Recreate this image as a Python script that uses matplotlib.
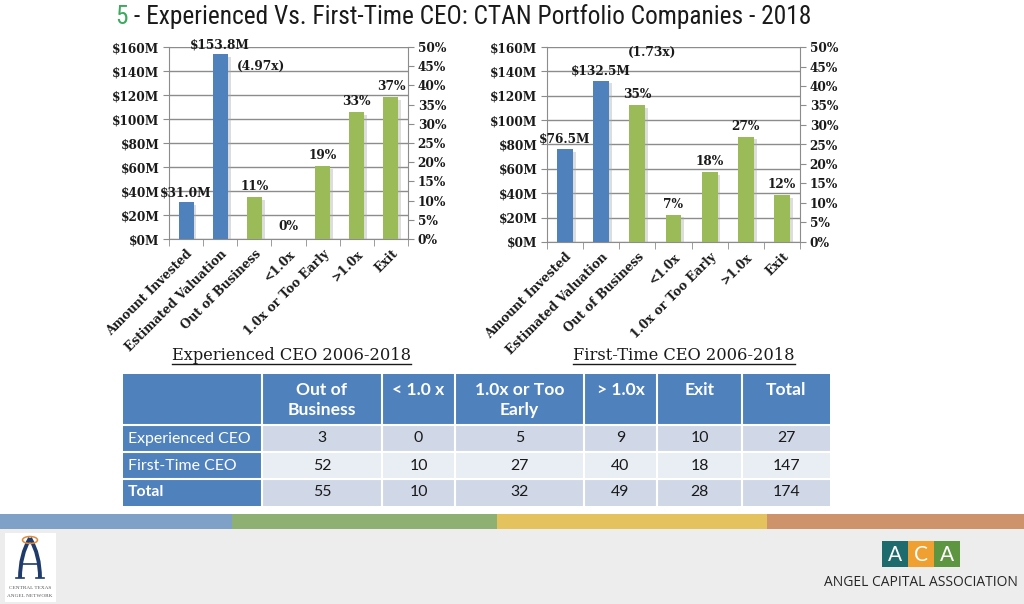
import matplotlib
matplotlib.use("Agg")
import matplotlib.pyplot as plt
import matplotlib.font_manager as fm
from matplotlib.font_manager import FontProperties
from matplotlib.patches import Rectangle, Ellipse, PathPatch
from matplotlib.path import Path
import matplotlib.patheffects as pe

# ---------------- data ----------------
categories = ["Amount Invested", "Estimated Valuation", "Out of Business",
              "<1.0x", "1.0x or Too Early", ">1.0x", "Exit"]
exp_dollars = [31.0, 153.8]            # $M : Amount Invested, Estimated Valuation
exp_pcts = [11, 0, 19, 33, 37]         # % of companies
exp_multiple = "(4.97x)"
first_dollars = [76.5, 132.5]
first_pcts = [35, 7, 18, 27, 12]
first_multiple = "(1.73x)"
dollar_ticks = [0, 20, 40, 60, 80, 100, 120, 140, 160]
pct_ticks = [0, 5, 10, 15, 20, 25, 30, 35, 40, 45, 50]

title_num = "5"
title_rest = " - Experienced Vs. First-Time CEO: CTAN Portfolio Companies - 2018"
subtitles = ["Experienced CEO 2006-2018", "First-Time CEO 2006-2018"]

table_header = ["Out of\nBusiness", "< 1.0 x", "1.0x or Too\nEarly", "> 1.0x", "Exit", "Total"]
table_rows = ["Experienced CEO", "First-Time CEO", "Total"]
exp_counts = [3, 0, 5, 9, 10, 27]
first_counts = [52, 10, 27, 40, 18, 147]
total_counts = [55, 10, 32, 49, 28, 174]

# ---------------- style ----------------
BLUE = "#4F81BD"
GREEN = "#9BBB59"
GRID = "#8C8C8C"
TXT = "#1A1A1A"
SERIF = "DejaVu Serif"

names = {f.name for f in fm.fontManager.ttflist}
if "Liberation Sans Narrow" in names:
    title_fp = FontProperties(family="Liberation Sans Narrow", size=18)
elif "Roboto Condensed" in names:
    title_fp = FontProperties(family="Roboto Condensed", size=18)
else:
    title_fp = FontProperties(family="DejaVu Sans", stretch="condensed", size=18)
SANS = "Lato" if "Lato" in names else "DejaVu Sans"

fig = plt.figure(figsize=(10.24, 6.04), dpi=100)
fig.patch.set_facecolor("white")

# background axes in pixel coordinates
bg = fig.add_axes([0, 0, 1, 1], zorder=-5)
bg.set_xlim(0, 1024)
bg.set_ylim(604, 0)
bg.axis("off")

# footer
bg.add_patch(Rectangle((0, 528), 1024, 76, color="#EDEDED", lw=0))
stripe = [(0, 232, "#80A1C7"), (232, 497, "#8FB073"), (497, 767, "#E4C35E"), (767, 1024, "#CF936B")]
for x0, x1, c in stripe:
    bg.add_patch(Rectangle((x0, 514), x1 - x0, 15, color=c, lw=0))

# CTAN logo
bg.add_patch(Rectangle((5, 533), 51, 69, color="white", lw=0))
NAVY = "#1F3B6B"
bg.add_patch(PathPatch(Path([(20, 578), (20, 555), (30, 538)], [Path.MOVETO, Path.CURVE3, Path.CURVE3]),
                       fill=False, ec=NAVY, lw=2.8))
bg.add_patch(PathPatch(Path([(30, 538), (40, 555), (40, 578)], [Path.MOVETO, Path.CURVE3, Path.CURVE3]),
                       fill=False, ec=NAVY, lw=2.8))
bg.plot([22, 38], [564, 564], color=NAVY, lw=1.2)
bg.plot([16, 24], [578, 578], color=NAVY, lw=1.2)
bg.plot([36, 44], [578, 578], color=NAVY, lw=1.2)
bg.add_patch(Ellipse((30, 540), 15, 7, fill=False, ec="#E08A3C", lw=1.1))
bg.text(30, 588, "CENTRAL TEXAS", fontsize=3.8, family="Liberation Serif", color="#555555",
        ha="center", va="center")
bg.text(30, 596, "ANGEL NETWORK", fontsize=3.8, family="Liberation Serif", color="#555555",
        ha="center", va="center")

# ACA logo
for x0, c, letter in [(882, "#1E6B6E", "A"), (908, "#F0A030", "C"), (934, "#5E9541", "A")]:
    bg.add_patch(Rectangle((x0, 541), 26, 26, color=c, lw=0))
    bg.text(x0 + 13, 555, letter, color="white", fontsize=15, family=SANS,
            ha="center", va="center")
bg.text(921, 582, "ANGEL CAPITAL ASSOCIATION", color="#262626", fontsize=10,
        family="Open Sans", ha="center", va="center")

# title
t1 = bg.text(115, 24, title_num, color="#3BAA5E", fontproperties=title_fp, va="baseline", ha="left")
t2 = bg.annotate(title_rest, xy=(1, 0), xycoords=t1, va="bottom", ha="left",
                 fontproperties=title_fp, color=TXT)
fig.canvas.draw()
r = fig.canvas.get_renderer()
w = t2.get_window_extent(r).x1 - t1.get_window_extent(r).x0
new_size = 18 * 695.0 / w
t1.set_fontsize(new_size)
t2.set_fontsize(new_size)


def draw_chart(rect, dollars, pcts, multiple, mult_offset):
    ax = fig.add_axes(rect)
    ax2 = ax.twinx()
    n = len(categories)
    xs = list(range(n))
    ax.set_xlim(-0.5, n - 0.5)
    ax.set_ylim(0, 160)
    ax2.set_ylim(0, 50)
    ax.patch.set_alpha(0)
    ax.set_axisbelow(True)
    ax.yaxis.grid(True, color=GRID, lw=1)
    shadow = [pe.SimplePatchShadow(offset=(2, -2), shadow_rgbFace="#AAAAAA", alpha=0.4), pe.Normal()]
    nb = len(dollars)
    ax.bar(xs[:nb], dollars, width=0.44, color=BLUE, path_effects=shadow, zorder=3)
    ax2.bar(xs[nb:], pcts, width=0.44, color=GREEN, path_effects=shadow, zorder=3)
    lab_kw = dict(textcoords="offset points", ha="center", va="bottom",
                  fontsize=8.7, fontweight="bold", family=SERIF, color=TXT)
    for x, v in zip(xs[:nb], dollars):
        ax.annotate(f"${v:.1f}M", xy=(x, v), xytext=(0, 2), **lab_kw)
    for x, v in zip(xs[nb:], pcts):
        ax2.annotate(f"{v}%", xy=(x, v), xytext=(0, 3 if v > 0 else 4), **lab_kw)
    ax.annotate(multiple, xy=(xs[1], dollars[1]), xytext=mult_offset, textcoords="offset points",
                ha="center", va="center", fontsize=8.7, fontweight="bold", family=SERIF, color=TXT)

    ax.set_yticks(dollar_ticks)
    ax.set_yticklabels([f"${t}M" for t in dollar_ticks])
    ax2.set_yticks(pct_ticks)
    ax2.set_yticklabels([f"{t}%" for t in pct_ticks])
    ax.set_xticks(xs)
    ax.set_xticklabels(categories, rotation=45, ha="right", rotation_mode="anchor")
    ax.set_xticks([i - 0.5 for i in range(n + 1)], minor=True)
    ax.tick_params(axis="x", which="major", length=0, pad=6)
    ax.tick_params(axis="x", which="minor", length=5, color=GRID, direction="out")
    ax.tick_params(axis="y", length=4, color=GRID, pad=3)
    ax2.tick_params(axis="y", length=4, color=GRID, pad=3)
    for a in (ax, ax2):
        for lbl in a.get_yticklabels() + a.get_xticklabels():
            lbl.set_fontfamily(SERIF)
            lbl.set_fontweight("bold")
            lbl.set_fontsize(8.7)
            lbl.set_color(TXT)
    ax.spines["top"].set_visible(False)
    ax2.spines["top"].set_visible(False)
    ax2.spines["left"].set_visible(False)
    ax2.spines["bottom"].set_visible(False)
    ax.spines["right"].set_visible(False)
    for s in ["left", "bottom"]:
        ax.spines[s].set_color(GRID)
    ax2.spines["right"].set_color(GRID)
    return ax


draw_chart([169 / 1024, 1 - 239 / 604, 239 / 1024, 192 / 604],
           exp_dollars, exp_pcts, exp_multiple, (29.5, -8.6))
draw_chart([547 / 1024, 1 - 242 / 604, 253 / 1024, 195 / 604],
           first_dollars, first_pcts, first_multiple, (36.5, 20.5))

# subtitles with underline
subs = []
for xc, s in zip([291, 684], subtitles):
    subs.append(bg.text(xc, 356, s, ha="center", va="center", fontsize=11.7, family=SERIF, color=TXT))

# table
xb = [123, 262, 382, 455, 584, 657, 742, 830]
yb = [374, 425, 452, 479, 506]
body_colors = ["#D0D8E8", "#E9EDF4", "#D0D8E8"]
bg.add_patch(Rectangle((xb[0], yb[0]), xb[-1] - xb[0], yb[1] - yb[0], color=BLUE, lw=0))
for j, h in enumerate(table_header):
    bg.text((xb[j + 1] + xb[j + 2]) / 2, 382, h, ha="center", va="top", color="white",
            fontsize=12.6, fontweight="bold", family=SANS, linespacing=1.32)
rows_vals = [exp_counts, first_counts, total_counts]
for i, (lab, vals) in enumerate(zip(table_rows, rows_vals)):
    y0, y1 = yb[i + 1], yb[i + 2]
    yc = (y0 + y1) / 2
    bg.add_patch(Rectangle((xb[0], y0), xb[1] - xb[0], y1 - y0, color=BLUE, lw=0))
    bg.text(xb[0] + 5, yc, lab, ha="left", va="center", color="white", fontsize=11.4,
            family=SANS, fontweight="bold" if lab == "Total" else "normal")
    for j, v in enumerate(vals):
        bg.add_patch(Rectangle((xb[j + 1], y0), xb[j + 2] - xb[j + 1], y1 - y0,
                               color=body_colors[i], lw=0))
        bg.text((xb[j + 1] + xb[j + 2]) / 2, yc, str(v), ha="center", va="center",
                color=TXT, fontsize=11.4, family=SANS)
for x in xb[1:-1]:
    bg.plot([x, x], [yb[0], yb[-1]], color="white", lw=1.5)
for y in yb[1:-1]:
    bg.plot([xb[0], xb[-1]], [y, y], color="white", lw=1.5)

fig.canvas.draw()
r = fig.canvas.get_renderer()
inv = bg.transData.inverted()
for t in subs:
    e = t.get_window_extent(r)
    (xa, ya), (xb2, yb2) = inv.transform([(e.x0, e.y0), (e.x1, e.y0)])
    bg.plot([xa, xb2], [ya - 1, ya - 1], color=TXT, lw=1)

fig.savefig("out.png", dpi=100)
